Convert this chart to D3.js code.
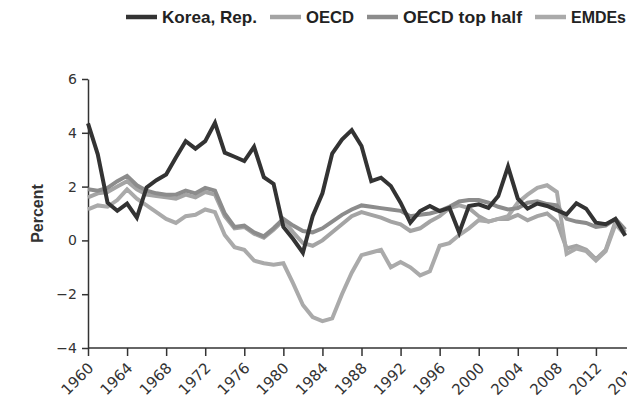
<!DOCTYPE html>
<html>
<head>
<meta charset="utf-8">
<script src="https://cdn.jsdelivr.net/npm/d3@7"></script>
<style>
  body { margin: 0; background: #fff; }
  svg { display: block; }
  .axis text { font-family: "DejaVu Sans", sans-serif; font-size: 14px; fill: #333; }
  .axis path, .axis line { stroke: #333; stroke-width: 1.5; }
  .series { fill: none; stroke-width: 4; stroke-linejoin: miter; }
</style>
</head>
<body>
<svg id="chart" width="627" height="401"></svg>
<script>
var years = d3.range(1960, 2016);

var korea = [4.35, 3.2, 1.4, 1.1, 1.37, 0.85, 1.97, 2.24, 2.45, 3.08,
             3.69, 3.41, 3.69, 4.37, 3.26, 3.11, 2.95, 3.48, 2.35, 2.1,
             0.5, 0.05, -0.46, 0.9, 1.75, 3.23, 3.75, 4.1, 3.51, 2.2,
             2.33, 2.02, 1.4, 0.66, 1.09, 1.28, 1.09, 1.21, 0.29, 1.28,
             1.34, 1.21, 1.65, 2.74, 1.55, 1.18, 1.37, 1.28, 1.12, 0.97,
             1.38, 1.18, 0.66, 0.6, 0.8, 0.17];

var oecd = [1.6, 1.75, 1.8, 2.0, 2.2, 1.9, 1.7, 1.65, 1.6, 1.55,
            1.7, 1.6, 1.8, 1.7, 0.9, 0.45, 0.5, 0.25, 0.1, 0.4,
            0.75, 0.3, -0.1, -0.2, 0.0, 0.3, 0.6, 0.9, 1.05, 0.95,
            0.85, 0.7, 0.6, 0.35, 0.45, 0.7, 0.9, 1.2, 1.3, 1.2,
            0.9, 0.7, 0.8, 0.8, 0.95, 0.75, 0.9, 1.0, 0.7, -0.3,
            -0.2, -0.35, -0.7, -0.35, 0.7, 0.3];

var oecdTop = [1.9, 1.85, 1.95, 2.2, 2.4, 2.05, 1.85, 1.75, 1.7, 1.7,
               1.85, 1.75, 1.95, 1.85, 1.0, 0.5, 0.55, 0.3, 0.15, 0.45,
               0.8, 0.55, 0.35, 0.3, 0.45, 0.7, 0.95, 1.15, 1.3, 1.25,
               1.2, 1.15, 1.1, 0.9, 0.95, 1.0, 1.1, 1.25, 1.45, 1.5,
               1.5, 1.4, 1.25, 1.15, 1.2, 1.4, 1.45, 1.35, 1.3, 0.8,
               0.7, 0.65, 0.5, 0.55, 0.8, 0.4];

var emdes = [1.15, 1.3, 1.25, 1.5, 1.9, 1.55, 1.3, 1.05, 0.8, 0.65,
             0.9, 0.95, 1.15, 1.05, 0.2, -0.25, -0.35, -0.75, -0.85, -0.9,
             -0.85, -1.6, -2.4, -2.85, -3.0, -2.9, -2.0, -1.2, -0.55, -0.45,
             -0.35, -1.0, -0.8, -1.0, -1.3, -1.15, -0.2, -0.1, 0.2, 0.45,
             0.75, 0.7, 0.8, 0.9, 1.4, 1.7, 1.95, 2.05, 1.8, -0.5,
             -0.3, -0.4, -0.75, -0.4, 0.6, 0.2];

var seriesNames = ["Korea, Rep.", "OECD", "OECD top half", "EMDEs"];
var seriesColors = ["#333333", "#a4a4a4", "#8c8c8c", "#aaaaaa"];
var yTicks = [-4, -2, 0, 2, 4, 6];
var xTicks = d3.range(1960, 2017, 4);

var svg = d3.select("#chart");

var x = d3.scaleLinear()
    .domain([1960, 2016])
    .range([88, 635]);

var y = d3.scaleLinear()
    .domain([-4, 6])
    .range([348, 79]);

var z = d3.scaleOrdinal()
    .domain(seriesNames)
    .range(seriesColors);

var series = [
    {id: "OECD", values: oecd},
    {id: "EMDEs", values: emdes},
    {id: "OECD top half", values: oecdTop},
    {id: "Korea, Rep.", values: korea}
];

var line = d3.line()
    .x((d, i) => x(years[i]))
    .y(d => y(d));

// axes
var xAxis = svg.append("g")
    .attr("class", "axis x-axis")
    .attr("transform", "translate(0," + y(-4) + ")")
    .call(d3.axisBottom(x).tickValues(xTicks).tickFormat(d3.format("d")).tickSize(8).tickSizeOuter(0));

xAxis.select(".domain").attr("d", "M" + x(1960) + ",0H627");

xAxis.selectAll("text")
    .attr("text-anchor", "end")
    .attr("dy", null)
    .attr("transform", "translate(6,21) rotate(-45)")
    .attr("y", 0)
    .attr("x", 0)
    .style("font-size", "15px");

svg.append("g")
    .attr("class", "axis y-axis")
    .attr("transform", "translate(" + x(1960) + ",0)")
    .call(d3.axisLeft(y).tickValues(yTicks).tickSize(6).tickSizeOuter(0))
    .selectAll("text")
    .attr("x", -11);

svg.append("text")
    .attr("transform", "translate(43," + y(1.0) + ") rotate(-90)")
    .attr("text-anchor", "middle")
    .style("font-family", "'Liberation Sans', Arial, sans-serif")
    .style("font-weight", "bold")
    .style("font-size", "16px")
    .style("fill", "#333")
    .text("Percent");

// lines
svg.selectAll(".series")
    .data(series)
    .enter().append("path")
    .attr("class", "series")
    .style("stroke", d => z(d.id))
    .attr("d", d => line(d.values));

// legend
var legendX = [126, 270, 367, 535];
var legendW = [95, 48, 119, 55];
var legend = svg.append("g").attr("class", "legend");

legend.selectAll("line")
    .data(seriesNames)
    .enter().append("line")
    .attr("x1", (d, i) => legendX[i])
    .attr("x2", (d, i) => legendX[i] + 31)
    .attr("y1", 17)
    .attr("y2", 17)
    .style("stroke", d => z(d))
    .style("stroke-width", 4.5);

legend.selectAll("text")
    .data(seriesNames)
    .enter().append("text")
    .attr("x", (d, i) => legendX[i] + 36)
    .attr("y", 23)
    .attr("textLength", (d, i) => legendW[i])
    .attr("lengthAdjust", "spacingAndGlyphs")
    .style("font-family", "'Liberation Sans', Arial, sans-serif")
    .style("font-weight", "bold")
    .style("font-size", "17px")
    .style("fill", "#222")
    .text(d => d);
</script>
</body>
</html>
